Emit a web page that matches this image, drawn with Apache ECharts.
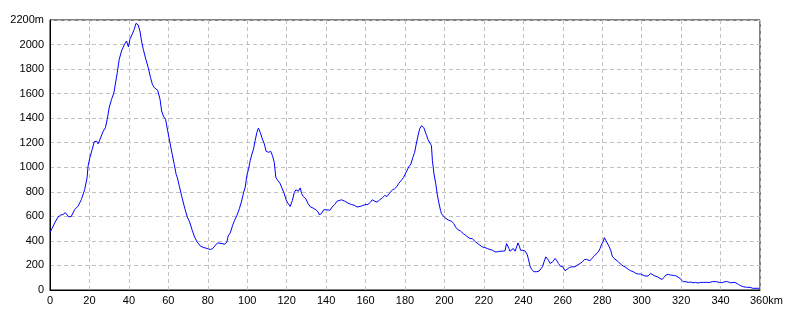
<!DOCTYPE html>
<html>
<head>
<meta charset="utf-8">
<script src="https://cdn.jsdelivr.net/npm/echarts@6/dist/echarts.min.js"></script>
<style>
html,body{margin:0;padding:0;background:#fff;}
#chart{width:800px;height:320px;}
</style>
</head>
<body>
<div id="chart"></div>
<script>
// Distance along route (km)
var distanceKm = [
0,1,2.4,4,5.3,6.6,7.8,8.6,9.5,10.8,11.7,12.5,14.2,15.9,17.6,18.8,19.3,20.2,21.4,22.4,23.6,24.4,25.8,27,28.1,29,30,31.2,32.4,33.4,34.1,35.1,36.3,37.6,38.8,39.8,40.5,41.7,42.7,43.6,44.7,45.6,46.4,47.3,48.6,49.8,51,51.9,52.9,54.6,55.8,56.6,57.5,58.6,59.7,60.8,62,63,64,
64.5,65.7,67.1,68.4,69.6,70.8,72.1,73.3,74.6,76.3,78,79.7,81.3,82.5,83.9,85,86,87.2,88.6,89.7,90.3,91.4,92.6,93.6,94.8,96,97,98.2,99,99.8,100.7,101.5,102.4,103.2,104,104.9,105.7,106.6,107.7,108.7,109.6,110.8,111.9,112.8,113.7,114.5,115.5,116.6,117.8,118.8,119.7,120.8,121.8,122.9,123.9,124.7,125.9,126.9,
127.5,128.4,129.7,130.9,132.1,133.4,134.8,136,136.5,137.6,138.8,140.2,141.9,143,144.4,145.6,146.4,147.8,149.4,151.1,152.8,154.5,155.7,156.7,157.9,159.6,161.2,162.4,163.4,164.6,165.8,167.2,168.5,169.7,170.9,172.2,173.6,174.7,175.9,176.9,178.1,179.3,180.3,181,182,183,184,184.9,185.7,186.6,187.4,188.3,189.5,190.2,
191,191.7,192.5,193.4,193.9,194.7,195.6,196.3,197.1,198,198.5,199.3,200.2,201,202.2,203.6,204.7,205.8,206.9,208.1,209.5,210.7,211.7,212.9,214.1,214.9,215.8,216.8,218,219.2,220.5,221.7,223.1,224.4,225.6,226.9,228.1,229.3,230.7,231.5,232,232.7,233.2,234.1,234.9,235.8,236.6,237.3,238.1,238.6,239.7,240.8,241.9,242.5,243.4,244.2,245.4,246.8,248,249,249.7,250.5,251.4,252.1,252.7,253.6,
254.9,256.1,257,257.8,258.7,260,261.2,262,263.4,264.6,266.2,267.4,268.8,270,271,272.1,273,273.8,274.7,275.9,276.9,278,278.9,279.7,280.6,281.1,281.8,282.6,283.4,284.3,285.1,286,287,288.2,289.3,290.7,292,293.2,294.4,295.8,297.1,298.3,299.5,300.5,301.7,302.5,303.3,304.5,305.5,306.7,307.9,309.2,310.4,311.3,312.3,313.5,314.6,316,317.3,318,319.3,320.2,321,322.4,323.6,324.7,326.1,327.3,328.6,329.8,331.2,332.9,334.6,335.8,336.6,338,339.3,340.5,341.7,343.1,343.9,345.1,346.1,347.3,348.1,349,350.2,351.5,353.2,354.9,356.3,358,359.7
];
// Elevation (m)
var elevationM = [
470,500,547,593,610,615,630,615,596,600,615,655,683,737,819,914,1009,1077,1145,1208,1213,1191,1246,1295,1322,1390,1485,1553,1607,1703,1771,1880,1948,1997,2029,1980,2043,2084,2124,2173,2160,2111,2029,1961,1880,1812,1730,1676,1648,1627,1553,1458,1417,1390,1295,1200,1104,1023,939,
919,838,743,662,595,554,487,432,392,357,346,338,330,338,365,384,397,378,373,392,438,465,527,568,608,662,716,797,838,932,987,1054,1108,1149,1216,1284,1319,1284,1230,1189,1130,1122,1130,1095,1041,919,892,870,824,784,735,703,681,730,797,816,805,832,
789,762,743,703,676,668,654,635,614,622,654,654,649,676,697,724,735,735,724,708,697,689,676,670,684,695,697,714,735,724,716,735,751,770,762,789,816,824,843,870,892,919,932,973,1006,1027,1081,1122,1189,1257,1311,1338,1324,1324,
1257,1225,1230,1176,1054,946,865,784,716,649,622,635,589,573,568,560,541,508,492,481,460,446,432,419,419,405,392,378,365,351,346,338,330,324,311,311,316,316,319,378,392,338,316,330,338,316,351,384,351,324,324,319,292,257,195,168,149,149,154,141,189,230,270,270,243,216,
230,257,238,216,195,189,157,168,184,189,189,203,216,230,249,249,257,238,257,276,292,311,338,373,400,427,405,392,357,324,276,257,243,230,211,195,184,168,157,149,135,130,130,114,114,100,114,135,122,114,108,95,86,103,122,127,122,119,116,103,97,86,68,68,62,65,59,62,57,62,62,62,62,68,62,68,62,59,65,70,62,59,54,62,54,46,35,27,22,22,14,14,14
];
var xTicks = [0,20,40,60,80,100,120,140,160,180,200,220,240,260,280,300,320,340,360];
var yTicks = [0,200,400,600,800,1000,1200,1400,1600,1800,2000,2200];
var xUnit = 'km';
var yUnit = 'm';

var points = distanceKm.map(function (d, i) { return [d, elevationM[i]]; });
var xMax = xTicks[xTicks.length - 1];
var yMax = yTicks[yTicks.length - 1];

var chart = echarts.init(document.getElementById('chart'), null, {renderer: 'canvas'});
var font = "'Liberation Sans', Arial, sans-serif";
chart.setOption({
  animation: false,
  backgroundColor: '#ffffff',
  grid: {left: 50, top: 20, right: 40, bottom: 30, show: true, borderColor: '#000', borderWidth: 1, backgroundColor: 'transparent'},
  xAxis: {
    type: 'value', min: xTicks[0], max: xMax, interval: xTicks[1] - xTicks[0],
    axisLine: {show: true, lineStyle: {color: '#000', width: 1}},
    axisTick: {show: false},
    splitLine: {show: true, lineStyle: {color: '#c0c0c0', width: 1, type: [4, 3]}},
    axisLabel: {
      color: '#000', fontSize: 11, fontFamily: font, margin: 5,
      formatter: function (v) { return v === xMax ? '{pad|}' + v + '{u|' + xUnit + '}' : String(v); },
      rich: {pad: {width: 13}, u: {color: '#000', fontSize: 11, fontFamily: font}}
    }
  },
  yAxis: {
    type: 'value', min: yTicks[0], max: yMax, interval: yTicks[1] - yTicks[0],
    axisLine: {show: true, lineStyle: {color: '#000', width: 1}},
    axisTick: {show: false},
    splitLine: {show: true, lineStyle: {color: '#c0c0c0', width: 1, type: [4, 3]}},
    axisLabel: {
      color: '#000', fontSize: 11, fontFamily: font, margin: 6,
      formatter: function (v) { return v === yMax ? v + yUnit : String(v); }
    }
  },
  series: [{
    type: 'line', data: points, showSymbol: false, symbol: 'none',
    lineStyle: {color: '#0000ff', width: 1}, silent: true
  }]
});
</script>
</body>
</html>
